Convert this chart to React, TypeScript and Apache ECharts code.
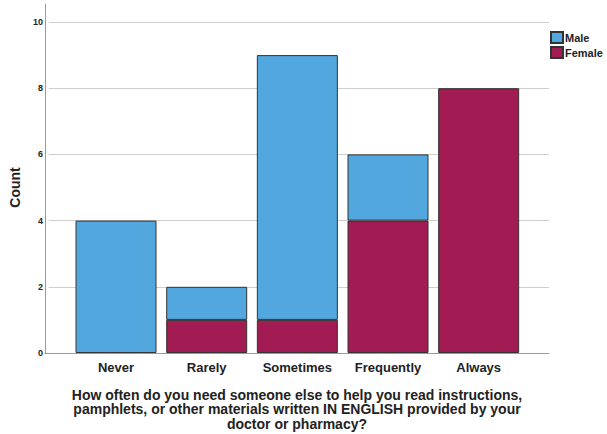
import React, { useEffect, useRef } from "react";
import * as echarts from "echarts";

const categories = ["Never", "Rarely", "Sometimes", "Frequently", "Always"];
const femaleCounts = [0, 1, 1, 4, 8];
const maleCounts = [4, 1, 8, 2, 0];
const yTicks = { min: 0, max: 10, interval: 2 };
const xTitle =
  "How often do you need someone else to help you read instructions,\npamphlets, or other materials written IN ENGLISH provided by your\ndoctor or pharmacy?";

const FONT = "Liberation Sans, Arial, sans-serif";

export default function App() {
  const ref = useRef<HTMLDivElement>(null);
  useEffect(() => {
    if (!ref.current) return;
    const chart = echarts.init(ref.current, undefined, { renderer: "svg" });
    const toBar = (v: number) => (v === 0 ? null : v);
    chart.setOption({
      animation: false,
      textStyle: { fontFamily: FONT },
      grid: [
        { left: 45, right: 58, top: 4, bottom: 81 },
        { left: 45, right: 58, top: 22, bottom: 81 },
        { left: 70.7, right: 83, top: 22, bottom: 81 },
      ],
      xAxis: [
        {
          gridIndex: 0,
          type: "value",
          min: 0,
          max: 1,
          axisLine: { show: true, lineStyle: { color: "#9a9a9a", width: 1 } },
          axisTick: { show: false },
          axisLabel: { show: false },
          splitLine: { show: false },
        },
        {
          gridIndex: 1,
          type: "value",
          min: 0,
          max: 1,
          show: false,
        },
        {
          gridIndex: 2,
          type: "category",
          data: categories,
          axisLine: { show: false },
          axisTick: { show: false },
          axisLabel: {
            margin: 8,
            fontSize: 13,
            fontWeight: "bold",
            color: "#222",
            fontFamily: FONT,
          },
        },
      ],
      yAxis: [
        {
          gridIndex: 0,
          type: "value",
          min: 0,
          max: 1,
          axisLine: { show: true, lineStyle: { color: "#9a9a9a", width: 1 } },
          axisTick: { show: false },
          axisLabel: { show: false },
          splitLine: { show: false },
        },
        {
          gridIndex: 1,
          type: "value",
          min: yTicks.min,
          max: yTicks.max,
          interval: yTicks.interval,
          axisLine: { show: false },
          axisTick: { show: false },
          axisLabel: {
            margin: 6,
            fontSize: 9,
            fontWeight: "bold",
            color: "#222",
            fontFamily: FONT,
          },
          splitLine: { show: true, lineStyle: { color: "#cfcfcf", width: 1 } },
          name: "Count",
          nameLocation: "middle",
          nameGap: 26,
          nameTextStyle: {
            fontSize: 14,
            fontWeight: "bold",
            color: "#222",
            fontFamily: FONT,
          },
        },
        {
          gridIndex: 2,
          type: "value",
          min: yTicks.min,
          max: yTicks.max,
          show: false,
        },
      ],
      legend: {
        orient: "vertical",
        left: 550,
        top: 31,
        padding: 0,
        itemWidth: 12,
        itemHeight: 11,
        itemGap: 2,
        data: ["Male", "Female"],
        icon: "rect",
        textStyle: {
          fontSize: 11,
          fontWeight: "bold",
          color: "#222",
          fontFamily: FONT,
          padding: [0, 0, 0, -3],
        },
      },
      title: {
        text: xTitle,
        left: 297,
        top: 387.5,
        padding: 0,
        textAlign: "center",
        textStyle: {
          fontSize: 14,
          fontWeight: "bold",
          color: "#222",
          lineHeight: 14.5,
          fontFamily: FONT,
        },
      },
      series: [
        {
          name: "Female",
          type: "bar",
          stack: "total",
          xAxisIndex: 2,
          yAxisIndex: 2,
          barWidth: 81,
          data: femaleCounts.map(toBar),
          itemStyle: { color: "#A21B52", borderColor: "#333", borderWidth: 1 },
        },
        {
          name: "Male",
          type: "bar",
          stack: "total",
          xAxisIndex: 2,
          yAxisIndex: 2,
          barWidth: 81,
          data: maleCounts.map(toBar),
          itemStyle: { color: "#52A8DE", borderColor: "#333", borderWidth: 1 },
        },
      ],
    });
    return () => chart.dispose();
  }, []);
  return <div ref={ref} style={{ width: 607, height: 434, position: "absolute", left: 0, top: 0 }} />;
}
